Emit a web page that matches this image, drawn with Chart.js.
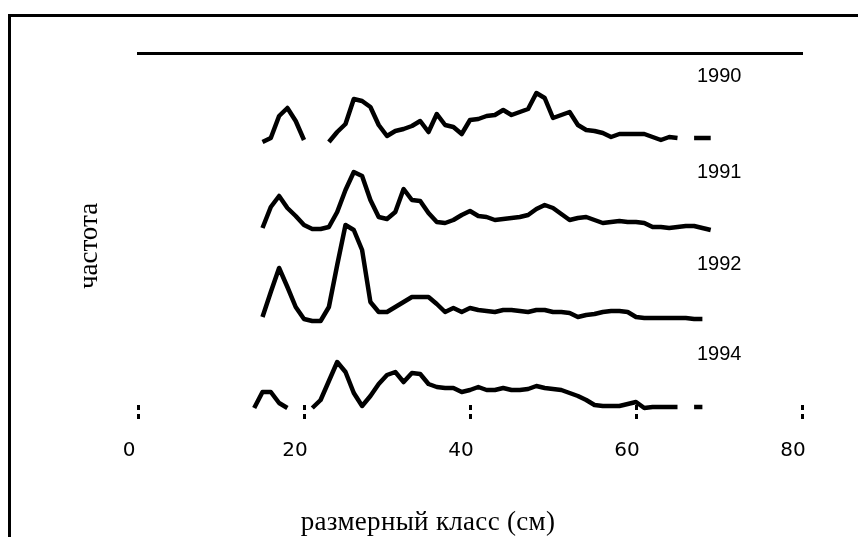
<!DOCTYPE html>
<html lang="ru">
<head>
<meta charset="utf-8">
<script src="https://cdn.jsdelivr.net/npm/chart.js@4.4.1/dist/chart.umd.min.js"></script>
<style>
  html, body { margin: 0; padding: 0; background: #fff; }
  #wrap { width: 858px; height: 537px; position: relative; }
</style>
</head>
<body>
<div id="wrap"><canvas id="grafico"></canvas></div>
<script>
// размерные классы (см)
const sizes = [14, 15, 16, 17, 18, 19, 20, 21, 22, 23, 24, 25, 26, 27, 28, 29, 30, 31, 32, 33,
               34, 35, 36, 37, 38, 39, 40, 41, 42, 43, 44, 45, 46, 47, 48, 49, 50, 51, 52, 53,
               54, 55, 56, 57, 58, 59, 60, 61, 62, 63, 64, 65, 66, 67, 68, 69];

const years = ['1990', '1991', '1992', '1994'];

// частота по годам (null = нет данных)
const freq1990 = [null, 0, 4, 26, 34, 21, 2, null, null, 0, 10, 18, 43, 41, 35, 17, 6, 11, 13, 16,
                  21, 10, 28, 17, 15, 8, 22, 23, 26, 27, 32, 27, 30, 33, 49, 44, 24, 27, 30, 17,
                  12, 11, 9, 5, 8, 8, 8, 8, 5, 2, 5, 4, null, 4, 4, 4];
const freq1991 = [null, 2, 23, 34, 22, 14, 5, 1, 1, 3, 18, 40, 58, 54, 30, 13, 11, 18, 41, 30,
                  29, 17, 8, 7, 10, 15, 19, 14, 13, 10, 11, 12, 13, 15, 21, 25, 22, 16, 10, 12,
                  13, 10, 7, 8, 9, 8, 8, 7, 3, 3, 2, 3, 4, 4, 2, 0];
const freq1992 = [null, 5, 30, 54, 35, 15, 3, 1, 1, 15, 57, 97, 92, 72, 20, 10, 10, 15, 20, 25,
                  25, 25, 18, 10, 14, 10, 14, 12, 11, 10, 12, 12, 11, 10, 12, 12, 10, 10, 9, 5,
                  7, 8, 10, 11, 11, 10, 5, 4, 4, 4, 4, 4, 4, 3, 3, null];
const freq1994 = [0, 16, 16, 5, 0, null, null, 0, 8, 27, 46, 36, 15, 2, 12, 24, 33, 36, 26, 35,
                  34, 24, 21, 20, 20, 16, 18, 21, 18, 18, 20, 18, 18, 19, 22, 20, 19, 18, 15, 12,
                  8, 3, 2, 2, 2, 4, 6, 0, 1, 1, 1, 1, null, 1, 1, null];

// сдвиг базовой линии каждого года
const offsets = [263, 175, 83, -3];

const xTicks = [0, 20, 40, 60, 80];

const allFreq = [freq1990, freq1991, freq1992, freq1994];

// === Рамка и подписи ===
const textos = {
    id: 'textos',
    beforeDraw(chart) {
        const c = chart.ctx;
        c.save();
        c.strokeStyle = '#000';
        c.lineWidth = 3;
        c.beginPath();
        c.moveTo(9.5, 537);
        c.lineTo(9.5, 15.5);
        c.lineTo(858, 15.5);
        c.stroke();
        c.restore();
    },
    afterDraw(chart) {
        const c = chart.ctx;
        const yPos = [76, 172, 264, 354];
        c.save();
        c.fillStyle = '#000';
        c.textBaseline = 'middle';
        c.textAlign = 'left';
        c.font = '20px "Liberation Sans", Arial, sans-serif';
        years.forEach((y, i) => c.fillText(y, 697, yPos[i]));

        c.font = '27px "Liberation Serif", "Times New Roman", serif';
        c.textAlign = 'center';
        c.letterSpacing = '0.3px';
        c.fillText('размерный класс (см)', 428, 523);

        c.letterSpacing = '0px';
        c.translate(90, 246);
        c.rotate(-Math.PI / 2);
        c.fillText('частота', 0, 0);
        c.restore();
    }
};

const datasets = years.map((y, k) => ({
    label: y,
    data: sizes.map((s, i) => ({ x: s, y: allFreq[k][i] === null ? null : offsets[k] + allFreq[k][i] })),
    borderColor: '#000',
    borderWidth: 4.5,
    pointRadius: 0,
    tension: 0,
    spanGaps: false,
    clip: false,
    borderJoinStyle: 'round',
    xAxisID: 'x',
    yAxisID: 'y'
}));

new Chart(document.getElementById('grafico'), {
    type: 'line',
    data: { datasets },
    options: {
        responsive: true,
        maintainAspectRatio: false,
        animation: false,
        layout: { padding: { left: 138, right: 56, top: 53, bottom: 72 } },
        plugins: { legend: { display: false }, tooltip: { enabled: false } },
        scales: {
            x: {
                type: 'linear',
                position: 'bottom',
                min: 0,
                max: 80,
                afterBuildTicks: (s) => { s.ticks = xTicks.map(v => ({ value: v })); },
                afterFit: (s) => { s.height = 60; },
                ticks: {
                    color: '#000',
                    padding: 20,
                    labelOffset: -9,
                    font: { family: '"DejaVu Sans", sans-serif', size: 20 }
                },
                grid: {
                    drawOnChartArea: false,
                    drawTicks: true,
                    tickLength: 14,
                    tickWidth: 3,
                    tickColor: '#000',
                    tickBorderDash: [5, 4]
                },
                border: { display: false }
            },
            x2: {
                type: 'linear',
                position: 'top',
                min: 0,
                max: 80,
                afterFit: (s) => { s.height = 0; },
                ticks: { display: false },
                grid: { drawOnChartArea: false, drawTicks: false },
                border: { display: true, color: '#000', width: 3 }
            },
            y: {
                display: false,
                min: 0,
                max: 352
            }
        }
    },
    plugins: [textos]
});
</script>
</body>
</html>
